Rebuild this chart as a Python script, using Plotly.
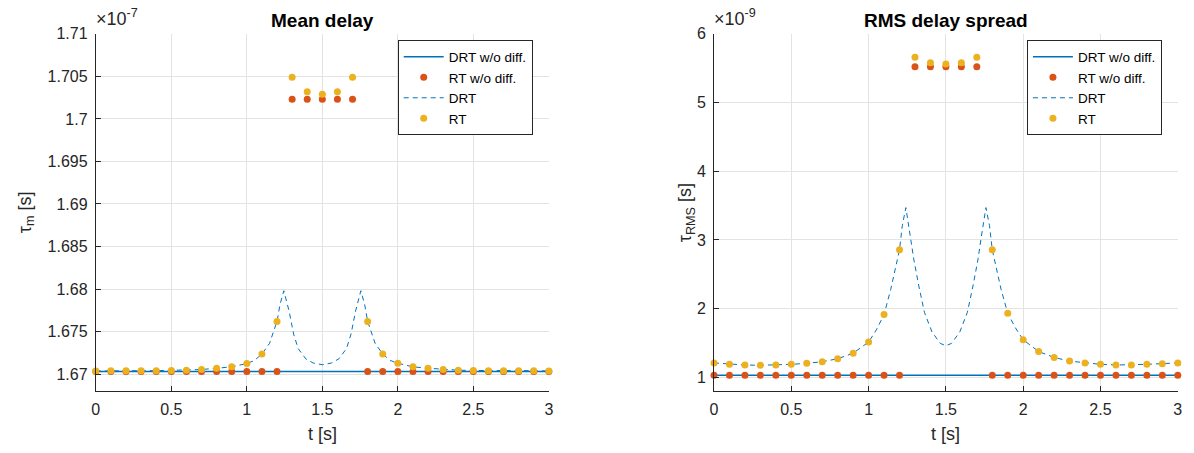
import plotly.graph_objects as go

W, H = 1194, 453

# ---------------- data ----------------
t = [0.0, 0.1, 0.2, 0.3, 0.4, 0.5, 0.6, 0.7, 0.8, 0.9, 1.0, 1.1, 1.2, 1.3, 1.4, 1.5,
     1.6, 1.7, 1.8, 1.9, 2.0, 2.1, 2.2, 2.3, 2.4, 2.5, 2.6, 2.7, 2.8, 2.9, 3.0]

# Mean delay (units of 1e-7 s)
mean_drt_nodiff = [1.6703, 1.6703]
mean_drt_nodiff_t = [0.0, 3.0]
mean_rt_nodiff = [1.6703, 1.6703, 1.6703, 1.6703, 1.6703, 1.6703, 1.6703, 1.6703, 1.6703, 1.6703,
                  1.6703, 1.6703, 1.6703, 1.7023, 1.7023, 1.7023, 1.7023, 1.7023, 1.6703, 1.6703,
                  1.6703, 1.6703, 1.6703, 1.6703, 1.6703, 1.6703, 1.6703, 1.6703, 1.6703, 1.6703, 1.6703]
mean_rt = [1.67037, 1.6704, 1.6704, 1.6704, 1.6704, 1.67043, 1.67046, 1.67054, 1.67069, 1.67085,
           1.67124, 1.67236, 1.67619, 1.7049, 1.7032, 1.7029, 1.7032, 1.7049, 1.67619, 1.67236,
           1.67128, 1.67085, 1.67069, 1.67054, 1.67046, 1.67043, 1.6704, 1.6704, 1.6704, 1.6704, 1.67037]
mean_drt_t = [0.0, 0.1, 0.2, 0.3, 0.4, 0.5, 0.6, 0.7, 0.8, 0.9, 1.0, 1.05, 1.1, 1.15, 1.2, 1.22,
              1.245, 1.28, 1.31, 1.34, 1.39, 1.44, 1.5, 1.56, 1.61, 1.66, 1.69, 1.72, 1.755,
              1.78, 1.8, 1.85, 1.9, 1.95, 2.0, 2.1, 2.2, 2.3, 2.4, 2.5, 2.6, 2.7, 2.8, 2.9, 3.0]
mean_drt = [1.67037, 1.6704, 1.6704, 1.6704, 1.6704, 1.67043, 1.67046, 1.67054, 1.67069, 1.67085,
            1.67124, 1.6716, 1.67236, 1.6736, 1.6762, 1.6782,
            1.6798, 1.6774, 1.6747, 1.6730, 1.6718, 1.6713, 1.6711, 1.6713, 1.6718, 1.6730, 1.6747, 1.6774, 1.6798,
            1.6782, 1.6762, 1.6736, 1.67236, 1.6716, 1.67128, 1.67085, 1.67069, 1.67054, 1.67046, 1.67043,
            1.6704, 1.6704, 1.6704, 1.6704, 1.67037]

# RMS delay spread (units of 1e-9 s)
rms_drt_nodiff = [1.03, 1.03]
rms_drt_nodiff_t = [0.0, 3.0]
rms_rt_nodiff = [1.03, 1.03, 1.03, 1.03, 1.03, 1.03, 1.03, 1.03, 1.03, 1.03,
                 1.03, 1.03, 1.03, 5.52, 5.52, 5.52, 5.52, 5.52, 1.03, 1.03,
                 1.03, 1.03, 1.03, 1.03, 1.03, 1.03, 1.03, 1.03, 1.03, 1.03, 1.03]
rms_rt = [1.21, 1.19, 1.18, 1.176, 1.18, 1.19, 1.204, 1.228, 1.271, 1.352,
          1.514, 1.914, 2.857, 5.66, 5.58, 5.56, 5.58, 5.66, 2.857, 1.933,
          1.547, 1.376, 1.29, 1.237, 1.209, 1.19, 1.18, 1.18, 1.19, 1.2, 1.21]
rms_drt_t = [0.0, 0.1, 0.2, 0.3, 0.4, 0.5, 0.6, 0.7, 0.8, 0.9, 1.0, 1.05, 1.1, 1.143, 1.2, 1.218,
             1.241, 1.271, 1.293, 1.325, 1.361, 1.41, 1.464, 1.5, 1.536, 1.59, 1.639, 1.675,
             1.707, 1.729, 1.759, 1.782, 1.8, 1.857, 1.9, 1.95, 2.0, 2.1, 2.2, 2.3, 2.4, 2.5,
             2.6, 2.7, 2.8, 2.9, 3.0]
rms_drt = [1.21, 1.19, 1.18, 1.176, 1.18, 1.19, 1.204, 1.228, 1.271, 1.352, 1.514, 1.69, 1.914, 2.28,
           2.857, 3.209, 3.471, 3.043, 2.709, 2.329, 1.947, 1.661, 1.494, 1.461, 1.494, 1.661, 1.947,
           2.329, 2.709, 3.043, 3.471, 3.209, 2.857, 2.28, 1.933, 1.72, 1.547, 1.376, 1.29, 1.237,
           1.209, 1.19, 1.18, 1.18, 1.19, 1.2, 1.21]

x_ticks = [0, 0.5, 1, 1.5, 2, 2.5, 3]
x_ticktext = ["0", "0.5", "1", "1.5", "2", "2.5", "3"]
mean_yticks = [1.67, 1.675, 1.68, 1.685, 1.69, 1.695, 1.70, 1.705, 1.71]
mean_yticktext = ["1.67", "1.675", "1.68", "1.685", "1.69", "1.695", "1.7", "1.705", "1.71"]
rms_yticks = [1, 2, 3, 4, 5, 6]
rms_yticktext = ["1", "2", "3", "4", "5", "6"]

labels = ["DRT w/o diff.", "RT w/o diff.", "DRT", "RT"]

# ---------------- style ----------------
BLUE = "#0072BD"
RED = "#D95319"
YEL = "#EDB120"
AX = "#262626"
GRID = "#e3e3e3"
FONT = "Liberation Sans, Arial, sans-serif"

def px_x(p):
    return p / W

def px_y(p):
    return 1 - p / H

L0, L1 = 92.5, 549.0
R0, R1 = 715.4, 1182.7
TOP, BOT = 26.3, 390.0

fig = go.Figure()

def add_set(xa, ya, legend, t_line, v_line, v_rtnd, t_drt, v_drt, v_rt):
    fig.add_trace(go.Scatter(x=t_line, y=v_line, mode="lines", name=labels[0],
                             line=dict(color=BLUE, width=1.5), xaxis=xa, yaxis=ya,
                             legend=legend, cliponaxis=False))
    fig.add_trace(go.Scatter(x=t, y=v_rtnd, mode="markers", name=labels[1],
                             marker=dict(color=RED, size=7), xaxis=xa, yaxis=ya,
                             legend=legend, cliponaxis=False))
    fig.add_trace(go.Scatter(x=t_drt, y=v_drt, mode="lines", name=labels[2],
                             line=dict(color=BLUE, width=1, dash="5px,4px"), xaxis=xa, yaxis=ya,
                             legend=legend, cliponaxis=False))
    fig.add_trace(go.Scatter(x=t, y=v_rt, mode="markers", name=labels[3],
                             marker=dict(color=YEL, size=7), xaxis=xa, yaxis=ya,
                             legend=legend, cliponaxis=False))

add_set("x", "y", "legend", mean_drt_nodiff_t, mean_drt_nodiff, mean_rt_nodiff,
        mean_drt_t, mean_drt, mean_rt)
add_set("x2", "y2", "legend2", rms_drt_nodiff_t, rms_drt_nodiff, rms_rt_nodiff,
        rms_drt_t, rms_drt, rms_rt)

axis_common = dict(showline=True, linecolor=AX, linewidth=1, ticks="inside", ticklen=5,
                   tickcolor=AX, tickwidth=1, showgrid=True, gridcolor=GRID, gridwidth=1,
                   zeroline=False, tickfont=dict(family=FONT, size=16, color=AX),
                   mirror=False)

legend_common = dict(bordercolor=AX, borderwidth=1, bgcolor="white",
                     font=dict(family=FONT, size=13.5, color="black"),
                     xanchor="left", yanchor="top", tracegroupgap=0, itemwidth=40)

fig.update_layout(
    width=W, height=H, margin=dict(l=0, r=0, t=0, b=0),
    paper_bgcolor="white", plot_bgcolor="white",
    font=dict(family=FONT, color=AX),
    xaxis=dict(domain=[px_x(L0), px_x(L1)], range=[0, 3], tickvals=x_ticks,
               ticktext=x_ticktext, anchor="y", ticklabelstandoff=4, **axis_common),
    yaxis=dict(domain=[px_y(BOT), px_y(TOP)], range=[1.668, 1.71], tickvals=mean_yticks,
               ticktext=mean_yticktext, anchor="x", ticklabelstandoff=4, **axis_common),
    xaxis2=dict(domain=[px_x(R0), px_x(R1)], range=[0, 3], tickvals=x_ticks,
                ticktext=x_ticktext, anchor="y2", ticklabelstandoff=4, **axis_common),
    yaxis2=dict(domain=[px_y(BOT), px_y(TOP)], range=[0.8, 6], tickvals=rms_yticks,
                ticktext=rms_yticktext, anchor="x2", ticklabelstandoff=4, **axis_common),
    legend=dict(x=px_x(396.7), y=px_y(33), **legend_common),
    legend2=dict(x=px_x(1030.7), y=px_y(33), **legend_common),
    showlegend=True,
)

annots = [
    dict(x=px_x((L0 + L1) / 2), y=px_y(13), text="<b>Mean delay</b>", font=dict(size=19, color="black")),
    dict(x=px_x((R0 + R1) / 2), y=px_y(13), text="<b>RMS delay spread</b>", font=dict(size=19, color="black")),
    dict(x=px_x((L0 + L1) / 2), y=px_y(434), text="t [s]", font=dict(size=18, color=AX)),
    dict(x=px_x((R0 + R1) / 2), y=px_y(434), text="t [s]", font=dict(size=18, color=AX)),
    dict(x=px_x(22), y=px_y(208), text="τ<sub>m</sub> [s]", textangle=-90, font=dict(size=18, color=AX)),
    dict(x=px_x(688), y=px_y(208), text="τ<sub>RMS</sub> [s]", textangle=-90, font=dict(size=18, color=AX)),
]
for a in annots:
    a.update(xref="paper", yref="paper", showarrow=False, xanchor="center", yanchor="middle")
    a["font"]["family"] = FONT
    fig.add_annotation(**a)

for xp, txt in [(L0 - 2, "×10<sup>-7</sup>"), (R0 - 2, "×10<sup>-9</sup>")]:
    fig.add_annotation(x=px_x(xp), y=px_y(23), xref="paper", yref="paper", text=txt,
                       showarrow=False, xanchor="left", yanchor="bottom",
                       font=dict(family=FONT, size=18, color=AX))

fig.write_html("out.html")
